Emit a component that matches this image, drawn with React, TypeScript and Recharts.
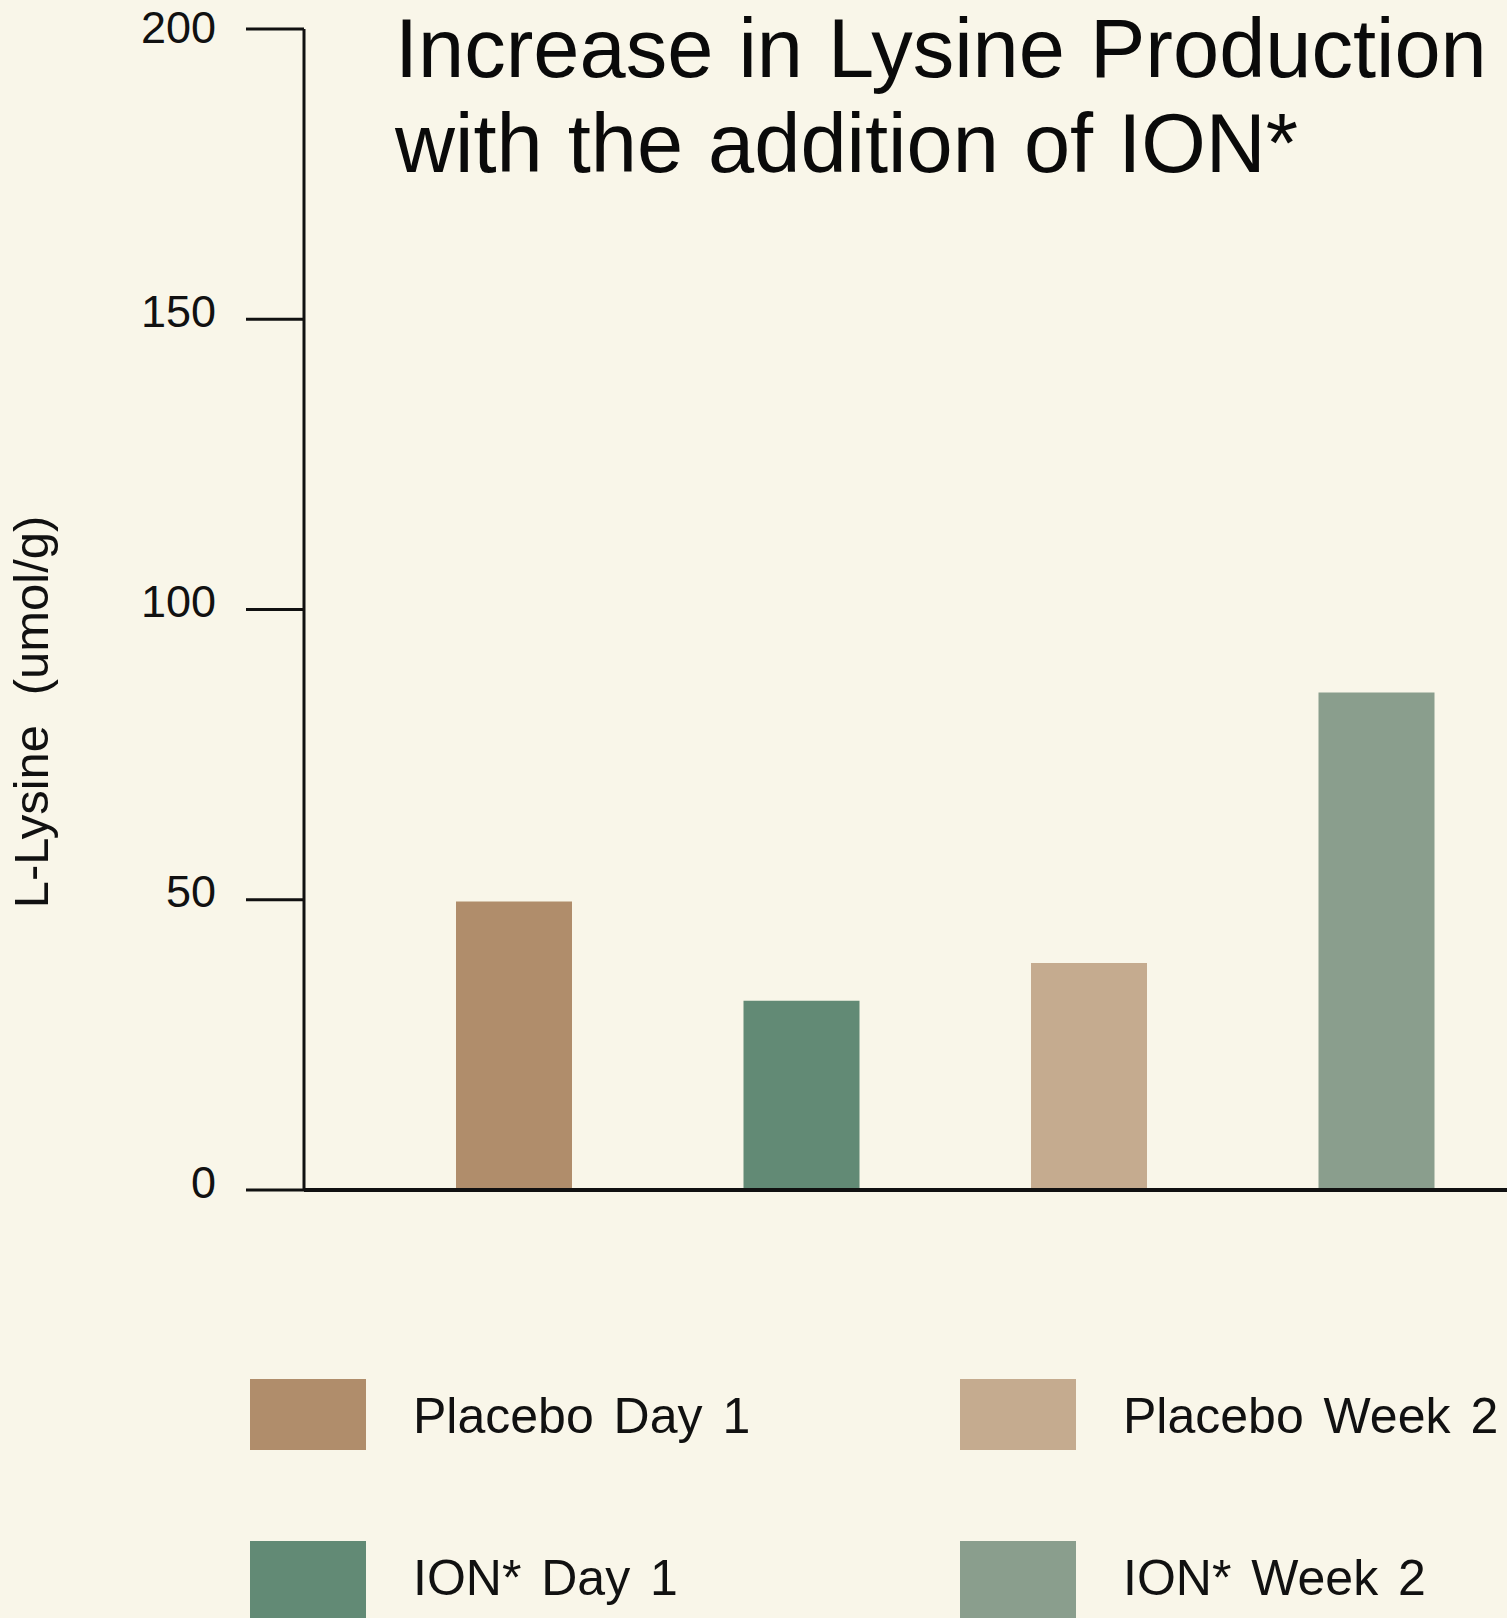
import React from 'react';
import { BarChart, Bar, XAxis, YAxis, Cell } from 'recharts';

const categories = ['Placebo Day 1', 'ION* Day 1', 'Placebo Week 2', 'ION* Week 2'];
const lysineValues = [49.7, 32.6, 39.1, 85.7];
const barColors = ['#b08d6b', '#628a75', '#c5ab8f', '#8a9e8d'];
const yTicks = [0, 50, 100, 150, 200];
const titleLines = ['Increase in Lysine Production', 'with the addition of ION*'];
const yAxisLabel = 'L-Lysine (umol/g)';
// legend order in 2x2 grid: [row][col] -> category index
const legendGrid = [
  [0, 2],
  [1, 3],
];

const data = categories.map((name, i) => ({ name, value: lysineValues[i] }));

const FONT = '"Liberation Sans", Arial, Helvetica, sans-serif';
const INK = '#111111';

const renderTick = (props: any) => {
  const { x, y, payload } = props;
  return (
    <text
      x={x}
      y={Math.max(y - 8, 27)}
      textAnchor="end"
      dominantBaseline="central"
      fontSize={45}
      fontFamily={FONT}
      fill={INK}
    >
      {payload.value}
    </text>
  );
};

export default function App() {
  const legendCols = [250, 960];
  const legendRows = [1379, 1541];
  return (
    <div
      style={{
        position: 'absolute',
        left: 0,
        top: 0,
        width: 1507,
        height: 1618,
        overflow: 'hidden',
        background: '#f9f6e9',
      }}
    >
      <div style={{ position: 'absolute', left: 0, top: 0 }}>
        <BarChart
          width={1520}
          height={1618}
          data={data}
          margin={{ top: 29, right: 0, left: 0, bottom: 427 }}
        >
          <XAxis
            dataKey="name"
            height={1}
            tick={false}
            tickLine={false}
            axisLine={{ stroke: INK, strokeWidth: 4 }}
            padding={{ left: 66, right: 0 }}
          />
          <YAxis
            width={304}
            domain={[0, 200]}
            ticks={yTicks}
            interval={0}
            tickSize={58}
            tickMargin={30}
            tick={renderTick}
            tickLine={{ stroke: INK, strokeWidth: 3 }}
            axisLine={{ stroke: INK, strokeWidth: 3 }}
          />
          <Bar dataKey="value" barSize={116} isAnimationActive={false}>
            {data.map((d, i) => (
              <Cell key={d.name} fill={barColors[i]} />
            ))}
          </Bar>
        </BarChart>
      </div>
      <svg
        width={1507}
        height={1618}
        style={{ position: 'absolute', left: 0, top: 0, pointerEvents: 'none' }}
      >
        {titleLines.map((t, i) => (
          <text
            key={t}
            x={395}
            y={77 + i * 95}
            fontSize={83}
            fontFamily={FONT}
            fill="#0a0a0a"
            style={{ wordSpacing: '2px' }}
          >
            {t}
          </text>
        ))}
        <text
          transform="translate(31, 712) rotate(-90)"
          textAnchor="middle"
          dominantBaseline="central"
          fontSize={49}
          fontFamily={FONT}
          fill={INK}
          style={{ wordSpacing: '16px' }}
        >
          {yAxisLabel}
        </text>
        {legendGrid.map((row, r) =>
          row.map((ci, c) => (
            <g key={categories[ci]}>
              <rect
                x={legendCols[c]}
                y={legendRows[r]}
                width={116}
                height={r === 0 ? 71 : 80}
                fill={barColors[ci]}
              />
              <text
                x={legendCols[c] + 163}
                y={legendRows[r] + 54}
                fontSize={50}
                fontFamily={FONT}
                fill={INK}
                style={{ wordSpacing: '6px' }}
              >
                {categories[ci]}
              </text>
            </g>
          ))
        )}
      </svg>
    </div>
  );
}
